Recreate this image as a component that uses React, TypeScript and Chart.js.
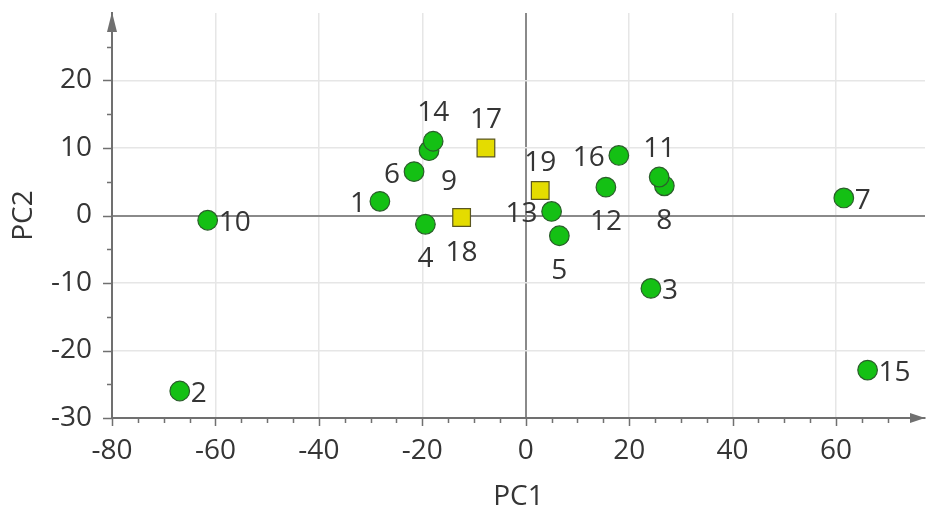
import React, { useEffect, useRef } from 'react';
import { Chart, registerables } from 'chart.js';

Chart.register(...registerables);

// ---- data ----
const sampleIds = ['1', '2', '3', '4', '5', '6', '7', '8', '9', '10', '11', '12', '13', '14', '15', '16'];
const samplePC1 = [-28.2, -66.9, 24.2, -19.4, 6.5, -21.6, 61.5, 26.8, -18.7, -61.5, 25.8, 15.5, 5.0, -17.9, 66.1, 18.0];
const samplePC2 = [2.1, -26.0, -10.8, -1.3, -3.0, 6.5, 2.6, 4.4, 9.6, -0.7, 5.7, 4.2, 0.6, 11.0, -22.9, 8.9];
const sampleAnchors = ['left', 'right', 'right', 'below', 'below', 'left', 'right', 'below', 'belowRight', 'right', 'above', 'below', 'left', 'above', 'right', 'left'];

const refIds = ['17', '18', '19'];
const refPC1 = [-7.7, -12.4, 2.8];
const refPC2 = [10.0, -0.3, 3.7];
const refAnchors = ['above', 'below', 'above'];

const xTitle = 'PC1';
const yTitle = 'PC2';

const FONT = '"Open Sans", "Noto Sans", sans-serif';
const FSIZE = 28;
const TEXT = '#353535';
const AXIS = '#707070';

export default function App() {
  const ref = useRef<HTMLCanvasElement | null>(null);

  useEffect(() => {
    document.body.style.margin = '0';
    const canvas = ref.current;
    if (!canvas) return;

    const labelSets = [sampleIds, refIds];
    const anchorSets = [sampleAnchors, refAnchors];

    const zeroPad = (s: any) => {
      s.paddingTop = 0;
      s.paddingBottom = 0;
      s.paddingLeft = 0;
      s.paddingRight = 0;
    };

    const overlay = {
      id: 'overlay',
      afterDatasetsDraw(chart: any) {
        const ctx = chart.ctx;
        ctx.save();
        ctx.font = `${FSIZE}px ${FONT}`;
        ctx.fillStyle = TEXT;
        ctx.textBaseline = 'alphabetic';
        const half = FSIZE * 0.357; // digit half-height
        chart.data.datasets.forEach((_ds: any, di: number) => {
          const meta = chart.getDatasetMeta(di);
          meta.data.forEach((el: any, i: number) => {
            const text = labelSets[di][i];
            const a = anchorSets[di][i];
            let x = el.x, y = el.y;
            if (a === 'right') { ctx.textAlign = 'left'; x += 11; y += 1; }
            else if (a === 'left') { ctx.textAlign = 'right'; x -= 14; y += 1; }
            else if (a === 'above') { ctx.textAlign = 'center'; y -= 30; }
            else if (a === 'below') { ctx.textAlign = 'center'; y += 33; }
            else { ctx.textAlign = 'center'; x += 20; y += 29; }
            ctx.fillText(text, x, y + half);
          });
        });
        ctx.restore();
      },
      afterDraw(chart: any) {
        const ctx = chart.ctx;
        const { left, right, top, bottom } = chart.chartArea;
        const xs = chart.scales.x;
        const ys = chart.scales.y;
        ctx.save();
        ctx.strokeStyle = AXIS;
        ctx.lineWidth = 1.5;
        ctx.beginPath();
        for (let v = xs.min; v <= xs.max - 3; v += 5) {
          const px = Math.round(xs.getPixelForValue(v)) + 0.5;
          const len = v % 20 === 0 ? 8 : 5;
          ctx.moveTo(px, bottom);
          ctx.lineTo(px, bottom + len);
        }
        for (let v = ys.min; v <= ys.max - 3; v += 5) {
          const py = Math.round(ys.getPixelForValue(v)) + 0.5;
          const len = v % 10 === 0 ? 9 : 5;
          ctx.moveTo(left - len, py);
          ctx.lineTo(left, py);
        }
        ctx.stroke();
        ctx.fillStyle = AXIS;
        // top arrow
        ctx.beginPath();
        ctx.moveTo(left, top - 1);
        ctx.lineTo(left - 5, top + 19);
        ctx.lineTo(left + 5, top + 19);
        ctx.closePath();
        ctx.fill();
        // right arrow
        ctx.beginPath();
        ctx.moveTo(right, bottom);
        ctx.lineTo(right - 15, bottom - 5);
        ctx.lineTo(right - 15, bottom + 5);
        ctx.closePath();
        ctx.fill();
        ctx.restore();
      },
    };

    const chart = new Chart(canvas, {
      type: 'scatter',
      data: {
        datasets: [
          {
            label: 'samples',
            data: samplePC1.map((v, i) => ({ x: v, y: samplePC2[i] })),
            pointStyle: 'circle',
            pointRadius: 9.8,
            pointBackgroundColor: '#14c014',
            pointBorderColor: '#2b5e2b',
            pointBorderWidth: 1.2,
          },
          {
            label: 'references',
            data: refPC1.map((v, i) => ({ x: v, y: refPC2[i] })),
            pointStyle: 'rect',
            pointRadius: 12.5,
            pointBackgroundColor: '#e4dc00',
            pointBorderColor: '#5a5620',
            pointBorderWidth: 1.2,
          },
        ],
      },
      options: {
        animation: false,
        responsive: false,
        devicePixelRatio: 1,
        layout: { autoPadding: false, padding: { top: 13, right: 1, left: 0, bottom: 0 } },
        plugins: { legend: { display: false }, tooltip: { enabled: false } },
        scales: {
          x: {
            type: 'linear',
            min: -80,
            max: 77.2,
            afterFit: (s: any) => { s.height = 90; zeroPad(s); },
            ticks: {
              stepSize: 20,
              includeBounds: false,
              padding: 16,
              color: TEXT,
              font: { family: FONT, size: FSIZE },
              maxRotation: 0,
            },
            grid: {
              drawTicks: false,
              color: (c: any) => (c.tick && c.tick.value === 0 ? '#8a8a8a' : c.tick && c.tick.value === -80 ? 'rgba(0,0,0,0)' : '#e6e6e6'),
              lineWidth: (c: any) => (c.tick && c.tick.value === 0 ? 2 : 1.5),
            },
            border: { display: true, color: AXIS, width: 2 },
            title: {
              display: true,
              text: xTitle,
              color: TEXT,
              font: { family: FONT, size: FSIZE, lineHeight: 1 },
              padding: { top: 0, bottom: -3 },
            },
          },
          y: {
            type: 'linear',
            min: -30,
            max: 30,
            afterFit: (s: any) => { s.width = 112; zeroPad(s); },
            ticks: {
              stepSize: 10,
              padding: 20,
              color: TEXT,
              font: { family: FONT, size: FSIZE },
              callback: (v: any) => (v === 30 ? '' : String(v)),
            },
            grid: {
              drawTicks: false,
              color: (c: any) => {
                const v = c.tick && c.tick.value;
                if (v === 0) return '#8a8a8a';
                if (v === -30 || v === 30) return 'rgba(0,0,0,0)';
                return '#e6e6e6';
              },
              lineWidth: (c: any) => (c.tick && c.tick.value === 0 ? 2 : 1.5),
            },
            border: { display: true, color: AXIS, width: 2 },
            title: {
              display: true,
              text: yTitle,
              color: TEXT,
              font: { family: FONT, size: FSIZE, lineHeight: 1.2 },
              padding: { top: 7, bottom: 0 },
            },
          },
        },
      },
      plugins: [overlay],
    });

    return () => chart.destroy();
  }, []);

  return (
    <div style={{ position: 'absolute', left: 0, top: 0, width: 926, height: 508, background: '#fff' }}>
      <canvas ref={ref} width={926} height={508} style={{ display: 'block', width: 926, height: 508 }} />
    </div>
  );
}
